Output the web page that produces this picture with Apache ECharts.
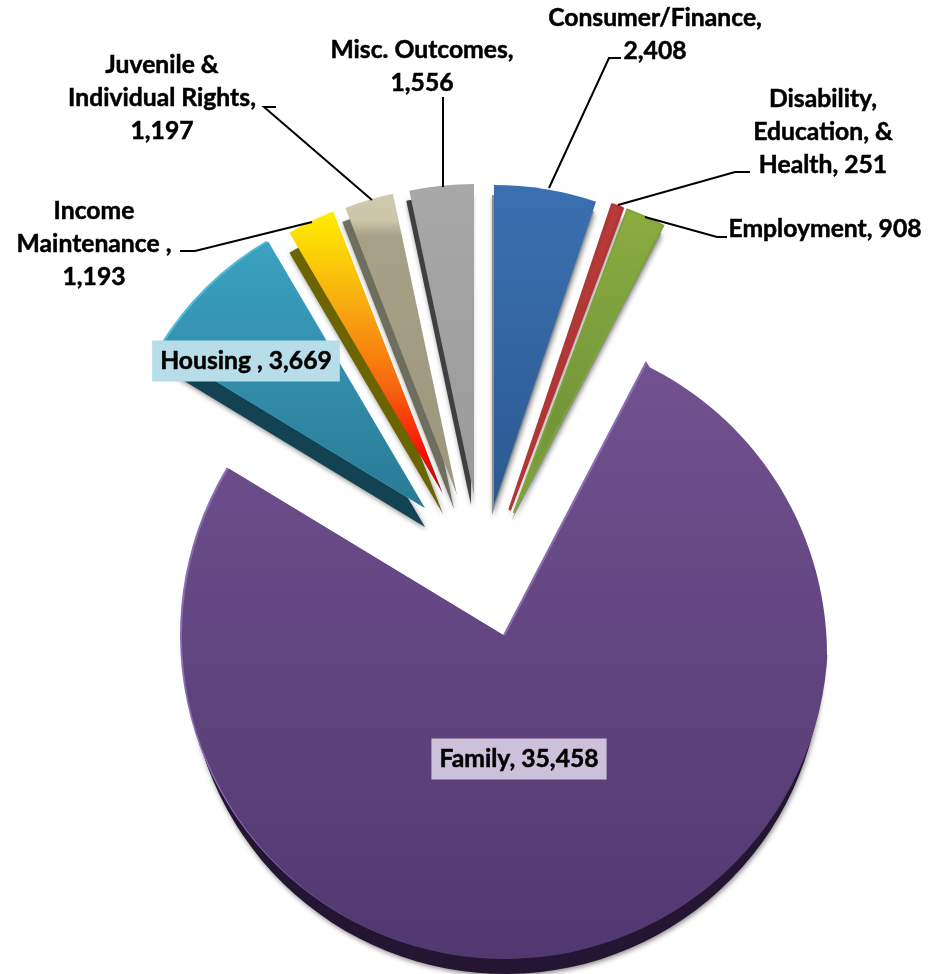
<!DOCTYPE html>
<html><head><meta charset="utf-8">
<style>html,body{margin:0;padding:0;background:#fff}#c{width:936px;height:974px}</style>
<script src="https://cdn.jsdelivr.net/npm/echarts@6/dist/echarts.min.js"></script>
</head><body><div id="c"></div>
<script>
const categories = ["Consumer/Finance","Disability","Employment","Family","Housing","Income Maintenance","Juvenile & Individual Rights","Misc. Outcomes"];
const values = [2408,251,908,35458,3669,1193,1197,1556];
const labelHeads = ["Consumer/Finance,\n","Disability,\nEducation, &\nHealth, ","Employment, ","Family, ","Housing , ","Income\nMaintenance ,\n","Juvenile &\nIndividual Rights,\n","Misc. Outcomes,\n"];
const labelSpots = [[655,35],[823,132],[825,229],[519,759],[246,361],[94,244],[162,98],[422,67]];
const centers = [[494,505],[510,509],[514,512],[505,636],[425,508],[443,494],[457,495],[474,495]];
const radii = [320,321,323,323,309,303,308,311];
const depthShift = [[-2,10],[-2,8],[-2,8],[0,21],[0,19],[0,20],[-3,14],[-3,10]];
const depthShrink = [0,0,0,6,0,0,0,0];
const sideColors = ["#8f8f8f","#909090","#8f8f8f","#241633","#134352","#6b6400","#6e6e5f","#3f3f42"];
const rimColors = [null,null,null,"#8a6cb2","#4fbcdc",null,null,null];
const faceStops = [
  [[0,"#3a70b2"],[1,"#2b5a90"]],
  [[0,"#b93b37"],[1,"#a93332"]],
  [[0,"#8bad40"],[.7,"#72953a"],[1,"#7fa939"]],
  [[0,"#72528f"],[1,"#513870"]],
  [[0,"#3aa2c0"],[1,"#2a7a95"]],
  [[0,"#ffee00"],[.3,"#f8b20f"],[.6,"#f76c10"],[.86,"#f61006"],[1,"#a01010"]],
  [[0,"#d0cbb0"],[.09,"#cbc5aa"],[.14,"#a6a187"],[1,"#9c967b"]],
  [[0,"#a8a8a8"],[1,"#9a9a9a"]]
];
const faceBorders = [null,"#b03735","#7fa23b",null,null,null,null,null];
const faceBorderWidths = [0,3,2,0,0,0,0,0];
const boxColors = [null,null,null,"#ccc1da","#b7dde8",null,null,null];
const leaders = [
  [[621,58],[609,58],[549,188]],
  [[750,172],[735,172],[618,205]],
  [[727,237],[717,237],[645,217]],
  [[443,97],[443,187]],
  [[276,107],[264,107],[372,200]],
  [[180,251],[195,251],[312,222]]
];
// the reference's pie is slightly foreshortened at its upper right; a white shape trims the circle to that outline
const trimOutline = [];
for(let t=26.7;t<=90;t+=1.5){const a=t*Math.PI/180;trimOutline.push([505+322*Math.sin(a),655-322*Math.cos(a)]);}
trimOutline.push([827,655],[850,655],[850,335],[630,335]);

const total = values.reduce((a,b)=>a+b,0);
const clear = {itemStyle:{color:'rgba(0,0,0,0)',borderWidth:0,shadowBlur:0,shadowColor:'transparent'},label:{show:false},labelLine:{show:false}};
const series = [];
let cum = 0;
values.forEach((v,i)=>{
  const startAngle = 90 - cum/total*360;
  cum += v;
  const base = {type:'pie',startAngle,clockwise:true,silent:true,animation:false,avoidLabelOverlap:false,
    label:{show:false},labelLine:{show:false},emphasis:{disabled:true}};
  const layer = (cx,cy,r,itemStyle,extra)=>series.push(Object.assign({},base,{center:[cx,cy],radius:r,
    data:[Object.assign({value:v,name:categories[i],itemStyle},extra||{}),Object.assign({value:total-v,name:''},clear)]}));
  const [cx,cy] = centers[i], [dx,dy] = depthShift[i], r = radii[i];
  layer(cx+dx,cy+dy,r-depthShrink[i],{color:sideColors[i],shadowBlur:5,shadowColor:'rgba(0,0,0,.45)',shadowOffsetX:1,shadowOffsetY:2});
  if(rimColors[i]) layer(cx-2,cy-1,r,{color:rimColors[i]});
  const grad = new echarts.graphic.LinearGradient(0,0,0,1,faceStops[i].map(s=>({offset:s[0],color:s[1]})));
  const lab = {show:true,position:'outside',formatter:labelHeads[i]+v.toLocaleString('en-US'),
    fontFamily:'Lato',fontWeight:'bold',fontSize:24.7,lineHeight:33,color:'#000',align:'center',
    textBorderColor:'#000',textBorderWidth:0.5};
  if(boxColors[i]) Object.assign(lab,{backgroundColor:boxColors[i],padding:[4,8,4,8]});
  const s = series.length;
  const face = {color:grad};
  if(faceBorders[i]) Object.assign(face,{borderColor:faceBorders[i],borderWidth:faceBorderWidths[i]});
  layer(cx,cy,r,face,{label:lab,labelLine:{show:false}});
  series[s].labelLayout = {x:labelSpots[i][0],y:labelSpots[i][1],align:'center',verticalAlign:'middle',hideOverlap:false};
});
const chart = echarts.init(document.getElementById('c'),null,{renderer:'canvas'});
chart.setOption({
  backgroundColor:'#fff',animation:false,series,
  graphic:[
    {type:'polygon',shape:{points:trimOutline},style:{fill:'#fff'},z:40,silent:true},
    ...leaders.map(points=>({type:'polyline',shape:{points},style:{stroke:'#000',lineWidth:2,fill:null},z:50,silent:true}))
  ]
});
</script></body></html>
